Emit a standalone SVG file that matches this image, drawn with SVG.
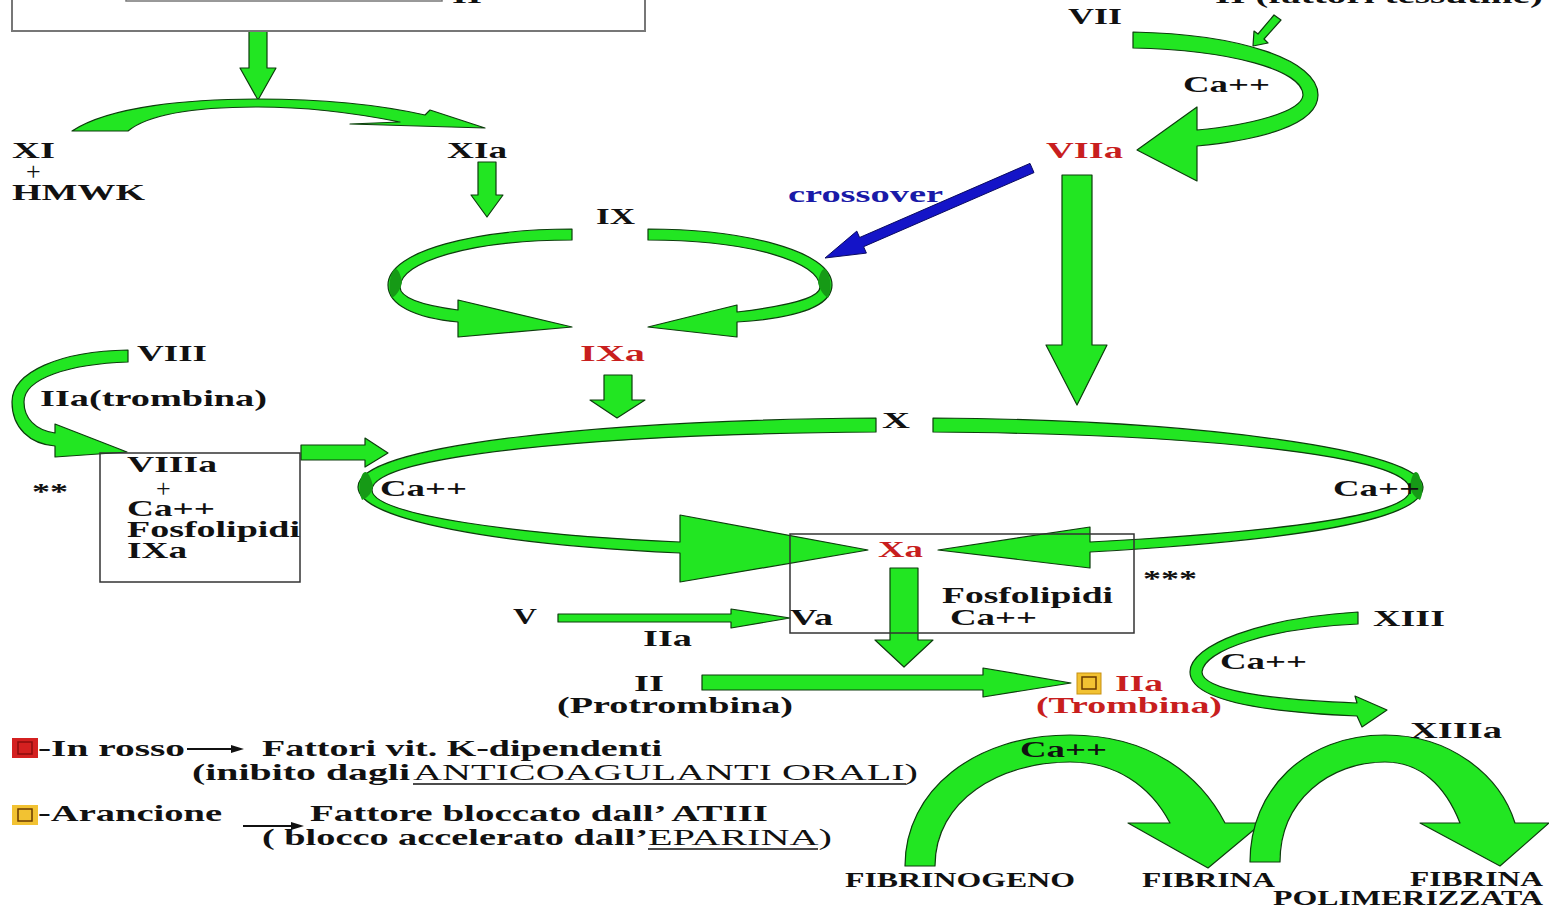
<svg xmlns="http://www.w3.org/2000/svg" width="1549" height="907" viewBox="0 0 1549 907">
<style>
.t{font-family:"Liberation Serif","Times New Roman",serif;font-weight:bold;font-size:24px;fill:#111}
.n{font-weight:normal}
.p{font-weight:normal;font-size:26px}
.r{fill:#c81e1e}
.b{fill:#1a1aa8}
.s{font-size:20px}
.g{fill:#22e622;stroke:#0d3d0d;stroke-width:1.2;stroke-linejoin:round}
.d{fill:#169a16;stroke:none}
.box{fill:none;stroke:#333;stroke-width:1.5}
</style>
<rect width="1549" height="907" fill="#fff"/>

<g id="connectors">
  <path class="g" d="M249,31 L267,31 L267,68 L276,68 L258,100 L240,68 L249,68 Z"/>
  <path class="g" d="M72,131 C110,106 190,99 258,99 C330,99 385,106 425,115 L430,110 L485,128 L350,124 L400,122 C350,112 300,107 258,107 C200,107 150,113 128,131 Z"/>
  <path class="g" d="M478,162 L496,162 L496,195 L503,195 L487,217 L471,195 L478,195 Z"/>
  <path class="g" d="M572,229 C480,229 388,250 388,285 C388,305 415,318 458,322 L458,337 L572,327 L458,300 L458,310 C420,305 400,297 400,287 C400,262 470,240 572,240 Z"/>
  <path class="d" d="M390,280 C392,268 398,262 402,282 C401,288 398,294 392,298 C389,292 389,286 390,280 Z"/>
  <path class="g" d="M648,229 C740,229 832,250 832,285 C832,305 800,318 737,322 L737,337 L648,327 L737,305 L737,312 C795,305 820,297 820,287 C820,262 750,240 648,240 Z"/>
  <path class="d" d="M830,280 C828,268 822,262 818,282 C819,288 822,294 828,298 C831,292 831,286 830,280 Z"/>
  <path class="g" d="M604,375 L632,375 L632,400 L645,400 L617,418 L590,400 L604,400 Z"/>
  <path fill="#1414c8" stroke="#0a0a60" stroke-width="1" d="M1030,163.4 L1034,172.6 L863.6,246.7 L866.4,253.1 L825,258 L856.8,231.1 L859.6,237.5 Z"/>
  <path class="g" d="M1133,32 C1240,34 1318,60 1318,95 C1318,125 1260,140 1197,146 L1197,181 L1137,150 L1197,107 L1197,130 C1250,125 1302,112 1303,95 C1303,70 1230,50 1133,48 Z"/>
  <path class="g" d="M1274,15 L1281,20 L1264,39 L1268,43 L1253,46 L1254,31 L1258,34 Z"/>
  <path class="g" d="M1062,175 L1092,175 L1092,345 L1107,345 L1077,405 L1046,345 L1062,345 Z"/>
  <path class="g" d="M128,350 C60,351 12,372 12,402 C12,428 30,444 55,446 L55,457 L127,452 L55,424 L55,433 C35,430 24,418 24,402 C24,378 70,364 128,362 Z"/>
  <path class="g" d="M301,445 L365,445 L365,438 L388,453 L365,467 L365,460 L301,460 Z"/>
  <path class="g" d="M876,418 C600,420 358,445 358,487 C358,520 500,545 680,553 L680,582 L868,550 L680,515 L680,542 C520,535 372,515 372,490 C372,455 600,434 876,432 Z"/>
  <path class="d" d="M360,482 C362,470 368,466 373,486 C372,492 369,497 362,500 C359,494 359,488 360,482 Z"/>
  <path class="g" d="M933,418 C1200,420 1423,450 1423,487 C1423,520 1300,540 1090,552 L1090,568 L938,550 L1090,527 L1090,542 C1280,532 1410,515 1410,490 C1410,455 1200,434 933,432 Z"/>
  <path class="d" d="M1421,482 C1419,470 1413,466 1410,486 C1411,492 1414,497 1420,500 C1423,494 1423,488 1421,482 Z"/>
  <path class="g" d="M890,568 L918,568 L918,640 L933,640 L904,667 L875,640 L890,640 Z"/>
  <path class="g" d="M558,614 L731,614 L731,609 L790,618 L731,628 L731,622 L558,622 Z"/>
  <path class="g" d="M702,675 L983,675 L983,668 L1071,683 L983,697 L983,690 L702,690 Z"/>
  <path class="g" d="M1358,612 C1260,618 1190,645 1190,672 C1190,700 1260,712 1357,716 L1362,727 L1387,710 L1355,696 L1357,703 C1270,700 1202,690 1202,672 C1204,650 1270,628 1358,624 Z"/>
  <path class="g" d="M905,866 C905,790 975,735 1070,735 C1150,735 1200,775 1225,823 L1262,823 L1208,868 L1128,823 L1170,823 C1150,785 1115,762 1070,762 C1000,762 935,800 935,866 Z"/>
  <path class="g" d="M1250,862 C1250,790 1305,735 1385,735 C1450,735 1500,775 1515,823 L1549,823 L1500,866 L1420,823 L1460,823 C1445,785 1420,762 1385,762 C1330,762 1280,800 1280,862 Z"/>
</g>

<g id="node-start-box">
  <rect x="12" y="-40" width="633" height="71" fill="none" stroke="#777" stroke-width="2"/>
  <rect x="126" y="-40" width="316" height="41" fill="none" stroke="#777" stroke-width="1.5"/>
  <text class="t" x="452" y="3" textLength="30" lengthAdjust="spacingAndGlyphs">II</text>
</g>
<g id="node-tf"><text class="t" x="1215" y="3" textLength="328" lengthAdjust="spacingAndGlyphs">II (fattori tessutine)</text></g>
<g id="node-XI">
  <text class="t" x="12" y="158" textLength="43" lengthAdjust="spacingAndGlyphs">XI</text>
  <text class="t p" x="26" y="180">+</text>
  <text class="t" x="12" y="200" textLength="133" lengthAdjust="spacingAndGlyphs">HMWK</text>
</g>
<g id="node-XIa"><text class="t" x="447" y="158" textLength="60" lengthAdjust="spacingAndGlyphs">XIa</text></g>
<g id="node-IX"><text class="t" x="596" y="224" textLength="39" lengthAdjust="spacingAndGlyphs">IX</text></g>
<g id="node-IXa"><text class="t r" x="580" y="361" textLength="65" lengthAdjust="spacingAndGlyphs">IXa</text></g>
<g id="label-crossover"><text class="t b" x="788" y="202" textLength="155" lengthAdjust="spacingAndGlyphs">crossover</text></g>
<g id="node-VII"><text class="t" x="1068" y="24" textLength="54" lengthAdjust="spacingAndGlyphs">VII</text></g>
<g id="label-ca1"><text class="t" x="1183" y="92" textLength="87" lengthAdjust="spacingAndGlyphs">Ca++</text></g>
<g id="node-VIIa"><text class="t r" x="1046" y="158" textLength="77" lengthAdjust="spacingAndGlyphs">VIIa</text></g>
<g id="node-VIII"><text class="t" x="137" y="361" textLength="70" lengthAdjust="spacingAndGlyphs">VIII</text></g>
<g id="label-trombina"><text class="t" x="40" y="406" textLength="227" lengthAdjust="spacingAndGlyphs">IIa(trombina)</text></g>
<g id="node-VIIIa-box">
  <rect class="box" x="100" y="453" width="200" height="129"/>
  <text class="t" x="127" y="472" textLength="90" lengthAdjust="spacingAndGlyphs">VIIIa</text>
  <text class="t p" x="156" y="497">+</text>
  <text class="t" x="127" y="516" textLength="88" lengthAdjust="spacingAndGlyphs">Ca++</text>
  <text class="t" x="127" y="537" textLength="173" lengthAdjust="spacingAndGlyphs">Fosfolipidi</text>
  <text class="t" x="127" y="558" textLength="60" lengthAdjust="spacingAndGlyphs">IXa</text>
</g>
<g id="label-2star"><text class="t" x="32" y="499" textLength="36" lengthAdjust="spacingAndGlyphs">**</text></g>
<g id="node-X"><text class="t" x="882" y="428" textLength="28" lengthAdjust="spacingAndGlyphs">X</text></g>
<g id="label-ca2"><text class="t" x="380" y="496" textLength="87" lengthAdjust="spacingAndGlyphs">Ca++</text></g>
<g id="label-ca3"><text class="t" x="1333" y="496" textLength="87" lengthAdjust="spacingAndGlyphs">Ca++</text></g>
<g id="node-Xa-box">
  <rect class="box" x="790" y="534" width="344" height="99"/>
  <text class="t r" x="878" y="557" textLength="45" lengthAdjust="spacingAndGlyphs">Xa</text>
  <text class="t" x="942" y="603" textLength="171" lengthAdjust="spacingAndGlyphs">Fosfolipidi</text>
  <text class="t" x="950" y="625" textLength="87" lengthAdjust="spacingAndGlyphs">Ca++</text>
  <text class="t" x="790" y="625" textLength="43" lengthAdjust="spacingAndGlyphs">Va</text>
</g>
<g id="label-3star"><text class="t" x="1143" y="586" textLength="54" lengthAdjust="spacingAndGlyphs">***</text></g>
<g id="node-V"><text class="t" x="513" y="624" textLength="24" lengthAdjust="spacingAndGlyphs">V</text></g>
<g id="label-IIa"><text class="t" x="643" y="646" textLength="49" lengthAdjust="spacingAndGlyphs">IIa</text></g>
<g id="node-II">
  <text class="t" x="634" y="691" textLength="30" lengthAdjust="spacingAndGlyphs">II</text>
  <text class="t" x="557" y="713" textLength="236" lengthAdjust="spacingAndGlyphs">(Protrombina)</text>
</g>
<g id="node-IIa">
  <rect x="1077" y="673" width="24" height="21" fill="#f2c232" stroke="#c89010" stroke-width="1"/>
  <rect x="1082" y="677" width="14" height="12" fill="none" stroke="#6a3a00" stroke-width="1.5"/>
  <text class="t r" x="1115" y="691" textLength="48" lengthAdjust="spacingAndGlyphs">IIa</text>
  <text class="t r" x="1036" y="713" textLength="186" lengthAdjust="spacingAndGlyphs">(Trombina)</text>
</g>
<g id="node-XIII"><text class="t" x="1373" y="626" textLength="72" lengthAdjust="spacingAndGlyphs">XIII</text></g>
<g id="label-ca4"><text class="t" x="1220" y="669" textLength="87" lengthAdjust="spacingAndGlyphs">Ca++</text></g>
<g id="node-XIIIa"><text class="t" x="1410" y="738" textLength="92" lengthAdjust="spacingAndGlyphs">XIIIa</text></g>
<g id="label-ca5"><text class="t" x="1020" y="757" textLength="87" lengthAdjust="spacingAndGlyphs">Ca++</text></g>
<g id="node-fibrinogeno"><text class="t s" x="845" y="887" textLength="230" lengthAdjust="spacingAndGlyphs">FIBRINOGENO</text></g>
<g id="node-fibrina"><text class="t s" x="1142" y="887" textLength="133" lengthAdjust="spacingAndGlyphs">FIBRINA</text></g>
<g id="node-fibrina-pol">
  <text class="t s" x="1410" y="886" textLength="133" lengthAdjust="spacingAndGlyphs">FIBRINA</text>
  <text class="t s" x="1273" y="905" textLength="270" lengthAdjust="spacingAndGlyphs">POLIMERIZZATA</text>
</g>

<g id="legend">
  <rect x="12" y="738" width="26" height="20" fill="#d42020"/>
  <rect x="18" y="742" width="14" height="12" fill="none" stroke="#8a0c0c" stroke-width="1.5"/>
  <text class="t" x="38" y="756" textLength="147" lengthAdjust="spacingAndGlyphs">-In rosso</text>
  <line x1="187" y1="749" x2="233" y2="749" stroke="#111" stroke-width="2"/>
  <path d="M231,745 L244,749 L231,753 Z" fill="#111"/>
  <text class="t" x="262" y="756" textLength="400" lengthAdjust="spacingAndGlyphs">Fattori vit. K-dipendenti</text>
  <text class="t" x="192" y="780" textLength="218" lengthAdjust="spacingAndGlyphs">(inibito dagli</text>
  <text class="t n" x="413" y="780" textLength="505" lengthAdjust="spacingAndGlyphs">ANTICOAGULANTI ORALI)</text>
  <line x1="413" y1="784" x2="906" y2="784" stroke="#111" stroke-width="1.5"/>
  <rect x="12" y="805" width="26" height="20" fill="#f2c232"/>
  <rect x="18" y="809" width="14" height="12" fill="none" stroke="#6a3a00" stroke-width="1.5"/>
  <text class="t" x="38" y="821" textLength="184" lengthAdjust="spacingAndGlyphs">-Arancione</text>
  <line x1="243" y1="826" x2="293" y2="826" stroke="#111" stroke-width="2"/>
  <path d="M291,822 L304,826 L291,830 Z" fill="#111"/>
  <text class="t" x="310" y="821" textLength="458" lengthAdjust="spacingAndGlyphs">Fattore bloccato dall’ ATIII</text>
  <text class="t" x="262" y="845" textLength="386" lengthAdjust="spacingAndGlyphs">( blocco accelerato dall’</text>
  <text class="t n" x="648" y="845" textLength="184" lengthAdjust="spacingAndGlyphs">EPARINA)</text>
  <line x1="648" y1="849" x2="818" y2="849" stroke="#111" stroke-width="1.5"/>
</g>
</svg>
